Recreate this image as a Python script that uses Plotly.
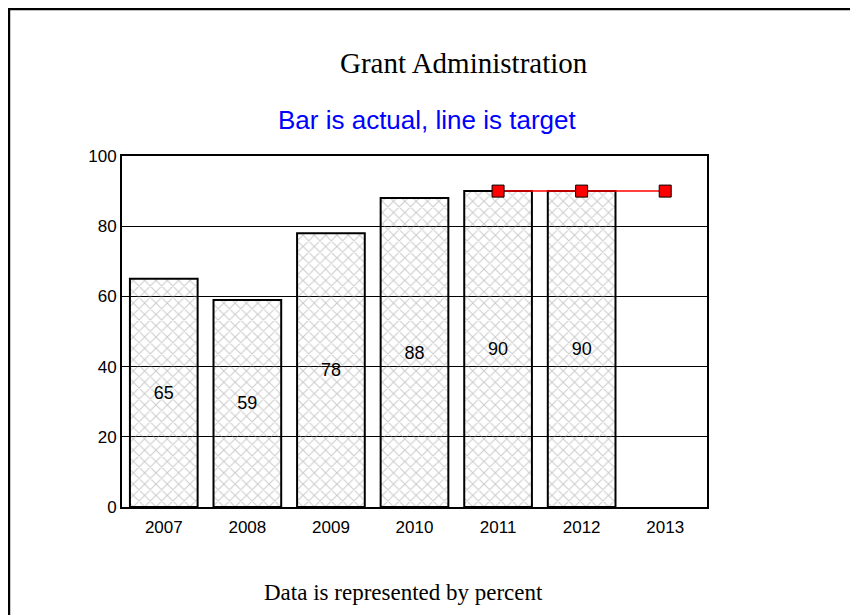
import plotly.graph_objects as go

years = ["2007", "2008", "2009", "2010", "2011", "2012", "2013"]
actual = [65, 59, 78, 88, 90, 90, None]
target = [None, None, None, None, 90, 90, 90]
y_ticks = [0, 20, 40, 60, 80, 100]

fig = go.Figure()
fig.add_trace(go.Bar(
    x=years, y=actual,
    text=[str(v) if v is not None else "" for v in actual],
    textposition="inside", insidetextanchor="middle",
    textfont=dict(family="Liberation Sans, Arial", size=18, color="black"),
    marker=dict(color="white", line=dict(color="black", width=2),
                pattern=dict(shape="x", fgcolor="#999999", bgcolor="rgba(0,0,0,0)", size=8, solidity=0.25)),
    showlegend=False, cliponaxis=False,
))
fig.add_trace(go.Scatter(
    x=years, y=target, mode="lines+markers",
    line=dict(color="red", width=1.5),
    marker=dict(symbol="square", size=12, color="red", line=dict(color="black", width=1)),
    showlegend=False, cliponaxis=False,
))

fig.update_layout(
    width=858, height=615,
    margin=dict(l=114, r=159, t=148, b=116),
    paper_bgcolor="white", plot_bgcolor="white",
    bargap=0.19,
    font=dict(family="Liberation Sans, Arial", size=17, color="black"),
    xaxis=dict(showline=True, linecolor="black", linewidth=2, mirror=True, ticks="",
               tickfont=dict(size=17), showgrid=False, ticklabelstandoff=4),
    yaxis=dict(range=[0, 100], tickvals=y_ticks, showline=True, linecolor="black", linewidth=2,
               mirror=True, showgrid=True, gridcolor="black", gridwidth=1, ticks="",
               tickfont=dict(size=17), zeroline=False),
    annotations=[
        dict(text="Grant Administration", xref="paper", yref="paper", x=0.585, y=1.265,
             xanchor="center", yanchor="middle", showarrow=False,
             font=dict(family="Liberation Serif, Times New Roman", size=29, color="black")),
        dict(text="Bar is actual, line is target", xref="paper", yref="paper", x=0.521, y=1.102,
             xanchor="center", yanchor="middle", showarrow=False,
             font=dict(family="Liberation Sans, Arial", size=26, color="blue")),
        dict(text="Data is represented by percent", xref="paper", yref="paper", x=0.482, y=-0.245,
             xanchor="center", yanchor="middle", showarrow=False,
             font=dict(family="Liberation Serif, Times New Roman", size=23, color="black")),
    ],
    shapes=[
        dict(type="rect", xref="paper", yref="paper", x0=-0.1932, x1=1.35, y0=-0.45, y1=1.4188,
             line=dict(color="black", width=2.5), fillcolor="rgba(0,0,0,0)", layer="above"),
    ],
)

fig.write_html("out.html")
